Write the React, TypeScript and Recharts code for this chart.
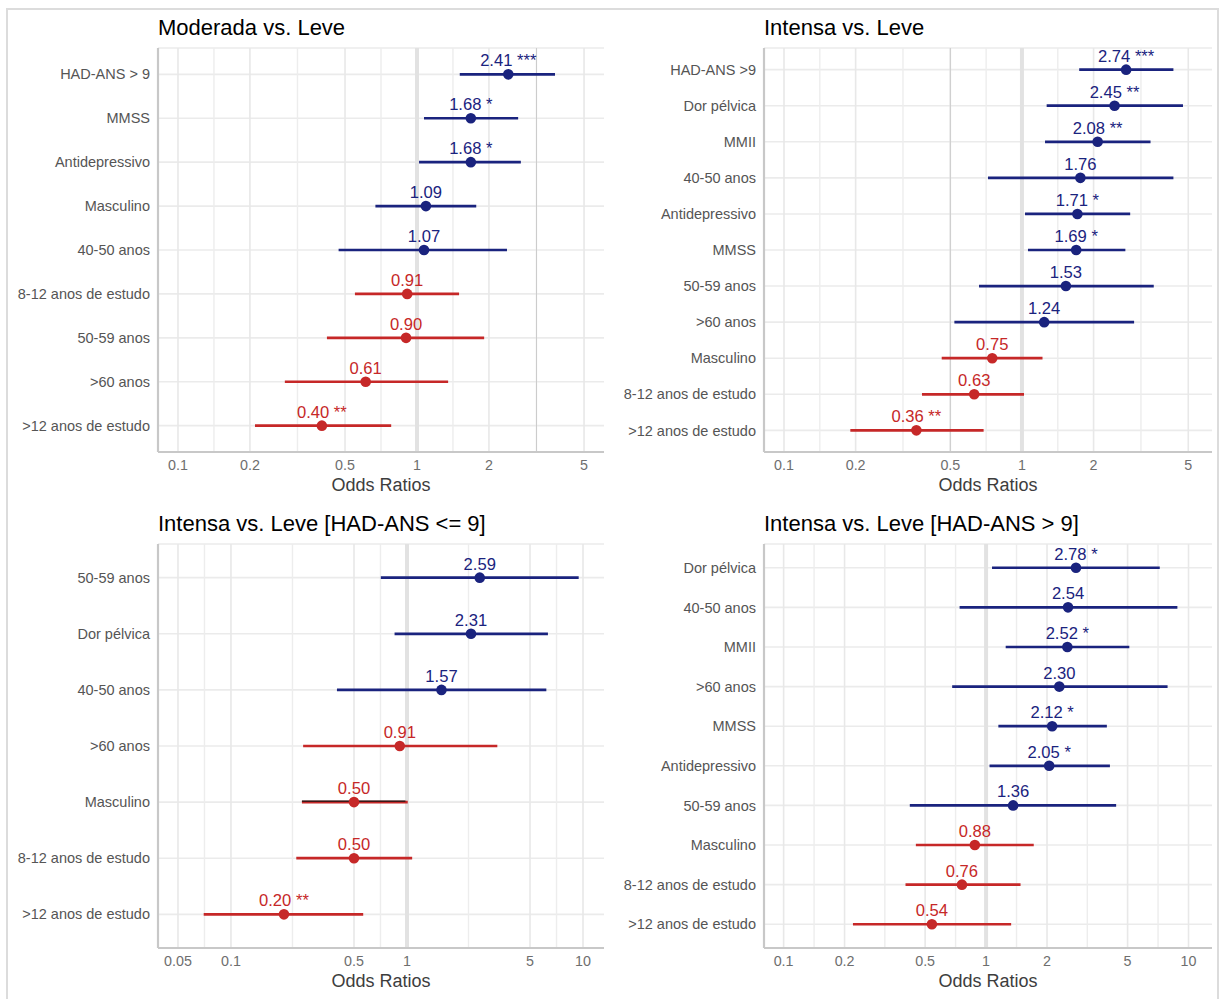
import React from 'react';
import { ScatterChart, Scatter, XAxis, YAxis, CartesianGrid, ErrorBar, ReferenceLine } from 'recharts';

const FONT = '"Liberation Sans", Arial, Helvetica, sans-serif';
const BLUE = '#1a237e';
const RED = '#c62828';

// Panel A: Moderada vs. Leve
const titleA = 'Moderada vs. Leve';
const catsA = ['HAD-ANS > 9', 'MMSS', 'Antidepressivo', 'Masculino', '40-50 anos', '8-12 anos de estudo', '50-59 anos', '>60 anos', '>12 anos de estudo'];
const orA = [2.41, 1.68, 1.68, 1.09, 1.07, 0.91, 0.90, 0.61, 0.40];
const loA = [1.51, 1.07, 1.02, 0.67, 0.47, 0.55, 0.42, 0.28, 0.21];
const hiA = [3.78, 2.65, 2.72, 1.77, 2.38, 1.50, 1.91, 1.35, 0.78];
const starsA = ['***', '*', '*', '', '', '', '', '', '**'];
const ticksA = [0.1, 0.2, 0.5, 1, 2, 5];
const domainA = [0.0825, 6.06];
const darkA = [3.162];

// Panel B: Intensa vs. Leve
const titleB = 'Intensa vs. Leve';
const catsB = ['HAD-ANS >9', 'Dor pélvica', 'MMII', '40-50 anos', 'Antidepressivo', 'MMSS', '50-59 anos', '>60 anos', 'Masculino', '8-12 anos de estudo', '>12 anos de estudo'];
const orB = [2.74, 2.45, 2.08, 1.76, 1.71, 1.69, 1.53, 1.24, 0.75, 0.63, 0.36];
const loB = [1.74, 1.27, 1.25, 0.72, 1.03, 1.06, 0.66, 0.52, 0.46, 0.38, 0.19];
const hiB = [4.33, 4.75, 3.47, 4.33, 2.85, 2.72, 3.58, 2.96, 1.22, 1.02, 0.69];
const starsB = ['***', '**', '**', '', '*', '*', '', '', '', '', '**'];
const ticksB = [0.1, 0.2, 0.5, 1, 2, 5];
const domainB = [0.0824, 6.29];
const darkB = [0.5];

// Panel C: Intensa vs. Leve [HAD-ANS <= 9]
const titleC = 'Intensa vs. Leve [HAD-ANS <= 9]';
const catsC = ['50-59 anos', 'Dor pélvica', '40-50 anos', '>60 anos', 'Masculino', '8-12 anos de estudo', '>12 anos de estudo'];
const orC = [2.59, 2.31, 1.57, 0.91, 0.50, 0.50, 0.20];
const loC = [0.71, 0.85, 0.40, 0.257, 0.253, 0.235, 0.070];
const hiC = [9.45, 6.32, 6.19, 3.26, 1.01, 1.07, 0.564];
const starsC = ['', '', '', '', '', '', '**'];
const ticksC = [0.05, 0.1, 0.5, 1, 5, 10];
const domainC = [0.0385, 13.16];
const darkC: number[] = [];
// thin dark stroke visible over the Masculino interval
const overlayC = [{ cat: 'Masculino', or: 0.50, lo: 0.253, hi: 0.98 }];

// Panel D: Intensa vs. Leve [HAD-ANS > 9]
const titleD = 'Intensa vs. Leve [HAD-ANS > 9]';
const catsD = ['Dor pélvica', '40-50 anos', 'MMII', '>60 anos', 'MMSS', 'Antidepressivo', '50-59 anos', 'Masculino', '8-12 anos de estudo', '>12 anos de estudo'];
const orD = [2.78, 2.54, 2.52, 2.30, 2.12, 2.05, 1.36, 0.88, 0.76, 0.54];
const loD = [1.07, 0.74, 1.25, 0.68, 1.15, 1.04, 0.42, 0.45, 0.40, 0.22];
const hiD = [7.21, 8.81, 5.10, 7.88, 3.95, 4.09, 4.39, 1.72, 1.48, 1.33];
const starsD = ['*', '', '*', '', '*', '*', '', '', '', ''];
const ticksD = [0.1, 0.2, 0.5, 1, 2, 5, 10];
const domainD = [0.080, 13.06];
const darkD: number[] = [];

const makeShape = (color: string) => (props: any) => {
  const { cx, cy, payload } = props;
  if (cx == null || cy == null) return <g />;
  return (
    <g>
      <circle cx={cx} cy={cy} r={5.3} fill={color} />
      <text x={cx} y={cy - 8} textAnchor="middle" fill={color} fontSize={16.6} fontFamily={FONT}>
        {payload.label}
      </text>
    </g>
  );
};

const emptyShape = () => <g />;

type PanelProps = {
  cats: string[];
  ors: number[];
  los: number[];
  his: number[];
  stars: string[];
  ticks: number[];
  domain: number[];
  dark: number[];
  overlay?: { cat: string; or: number; lo: number; hi: number }[];
  left: number;
  top: number;
  width: number;
  rightMargin: number;
};

function Panel({ cats, ors, los, his, stars, ticks, domain, dark, overlay, left, top, width, rightMargin }: PanelProps) {
  const n = cats.length;
  const rows = cats.map((c, i) => ({
    x: ors[i],
    y: n - i,
    err: [ors[i] - los[i], his[i] - ors[i]],
    label: ors[i].toFixed(2) + (stars[i] ? ' ' + stars[i] : ''),
  }));
  const pos = rows.filter((r) => r.x >= 1);
  const neg = rows.filter((r) => r.x < 1);
  const yTicks = cats.map((_, i) => i + 1);
  const minors = ticks.slice(1).map((t, i) => Math.sqrt(t * ticks[i]));
  const ov = (overlay || []).map((o) => ({ x: o.or, y: n - cats.indexOf(o.cat), err: [o.or - o.lo, o.hi - o.or] }));

  return (
    <div style={{ position: 'absolute', left, top }}>
      <ScatterChart width={width} height={500} margin={{ top: 48, right: rightMargin, left: 8, bottom: 18 }}>
        <CartesianGrid horizontal vertical={false} stroke="#ebebeb" strokeWidth={1.6} />
        {minors.map((v) => (
          <ReferenceLine key={'mi' + v} x={v} stroke="#ededed" strokeWidth={1.4} />
        ))}
        {ticks.filter((v) => v !== 1).map((v) => (
          <ReferenceLine key={'ma' + v} x={v} stroke="#e8e8e8" strokeWidth={1.6} />
        ))}
        <ReferenceLine x={1} stroke="#e2e2e2" strokeWidth={4} />
        {dark.map((v) => (
          <ReferenceLine key={'dk' + v} x={v} stroke="#cbcbcb" strokeWidth={1} />
        ))}
        <XAxis
          type="number"
          dataKey="x"
          scale="log"
          domain={domain}
          allowDataOverflow
          ticks={ticks}
          interval={0}
          tickFormatter={(v: number) => String(v)}
          tickLine={false}
          axisLine={{ stroke: '#c8c8c8', strokeWidth: 2.2 }}
          height={30}
          tick={{ fill: '#6e6e6e', fontSize: 14.3, fontFamily: FONT }}
        />
        <YAxis
          type="number"
          dataKey="y"
          domain={[0.4, n + 0.6]}
          allowDataOverflow
          ticks={yTicks}
          interval={0}
          tickFormatter={(v: number) => cats[n - v]}
          tickLine={false}
          axisLine={{ stroke: '#c8c8c8', strokeWidth: 2.2 }}
          width={150}
          tick={{ fill: '#555555', fontSize: 14.5, fontFamily: FONT }}
        />
        <Scatter data={pos} fill={BLUE} shape={makeShape(BLUE)} isAnimationActive={false}>
          <ErrorBar dataKey="err" direction="x" width={0} stroke={BLUE} strokeWidth={2.7} isAnimationActive={false} />
        </Scatter>
        <Scatter data={neg} fill={RED} shape={makeShape(RED)} isAnimationActive={false}>
          <ErrorBar dataKey="err" direction="x" width={0} stroke={RED} strokeWidth={2.7} isAnimationActive={false} />
        </Scatter>
        {ov.length > 0 && (
          <Scatter data={ov} fill="#000" shape={emptyShape} isAnimationActive={false}>
            <ErrorBar dataKey="err" direction="x" width={0} stroke="#111" strokeWidth={1.2} transform="translate(0,-1)" isAnimationActive={false} />
          </Scatter>
        )}
      </ScatterChart>
    </div>
  );
}

export default function App() {
  return (
    <div style={{ position: 'relative', width: 1222, height: 999, overflow: 'hidden', background: '#fff' }}>
      <style>{'body{margin:0;}'}</style>
      <div
        style={{
          position: 'absolute',
          left: 6,
          top: 8,
          width: 1213,
          height: 1010,
          border: '2px solid #dcdcdc',
          boxSizing: 'border-box',
        }}
      />
      <Panel cats={catsA} ors={orA} los={loA} his={hiA} stars={starsA} ticks={ticksA} domain={domainA} dark={darkA} left={0} top={0} width={611} rightMargin={7} />
      <Panel cats={catsB} ors={orB} los={loB} his={hiB} stars={starsB} ticks={ticksB} domain={domainB} dark={darkB} left={606} top={0} width={616} rightMargin={10} />
      <Panel cats={catsC} ors={orC} los={loC} his={hiC} stars={starsC} ticks={ticksC} domain={domainC} dark={darkC} overlay={overlayC} left={0} top={496} width={611} rightMargin={7} />
      <Panel cats={catsD} ors={orD} los={loD} his={hiD} stars={starsD} ticks={ticksD} domain={domainD} dark={darkD} left={606} top={496} width={616} rightMargin={10} />
      <svg width={1222} height={999} style={{ position: 'absolute', left: 0, top: 0, pointerEvents: 'none' }}>
        <g fontFamily={FONT} fill="#000" fontSize={22}>
          <text x={158} y={35}>{titleA}</text>
          <text x={764} y={35}>{titleB}</text>
          <text x={158} y={531}>{titleC}</text>
          <text x={764} y={531}>{titleD}</text>
        </g>
        <g fontFamily={FONT} fill="#3d3d3d" fontSize={18}>
          <text x={381} y={491} textAnchor="middle">Odds Ratios</text>
          <text x={988} y={491} textAnchor="middle">Odds Ratios</text>
          <text x={381} y={987} textAnchor="middle">Odds Ratios</text>
          <text x={988} y={987} textAnchor="middle">Odds Ratios</text>
        </g>
      </svg>
    </div>
  );
}
